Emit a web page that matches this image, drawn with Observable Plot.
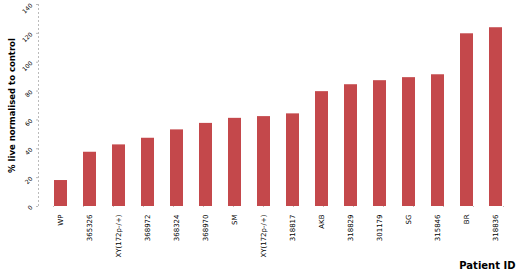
<!DOCTYPE html>
<html>
<head>
<meta charset="utf-8">
<script src="https://cdn.jsdelivr.net/npm/d3@7"></script>
<script src="https://cdn.jsdelivr.net/npm/@observablehq/plot@0.6"></script>
<style>
  html, body { margin: 0; padding: 0; background: #fff; }
  #chart svg { display: block; }
  #chart svg [aria-label="y-axis label"] text { font-size: 8.5px; font-weight: bold; }
</style>
</head>
<body>
<div id="chart"></div>
<script>
const patients = ["WP", "365326", "XY(172p-/+)", "368972", "368324", "368970", "SM", "XY(172p-/+)\u200b", "318817", "AKB", "318829", "301179", "SG", "315846", "BR", "318836"];
const values = [18.0, 37.6, 42.7, 47.3, 53.1, 57.6, 61.1, 62.3, 64.2, 79.6, 84.4, 87.2, 89.3, 91.3, 119.7, 123.9];
const yTicks = [0, 20, 40, 60, 80, 100, 120, 140];

const data = patients.map((p, i) => ({patient: p, value: values[i]}));

const chart = Plot.plot({
  width: 520,
  height: 276,
  marginLeft: 38,
  marginRight: 1,
  marginTop: 4,
  marginBottom: 70,
  style: {fontFamily: "DejaVu Sans, sans-serif", background: "#fff"},
  x: {domain: patients, padding: 0.55, align: 0.5},
  y: {domain: [0, 140]},
  marks: [
    Plot.barY(data, {x: "patient", y: "value", fill: "#c4484b"}),
    Plot.ruleY([0], {stroke: "#bbb", strokeDasharray: "1,29", strokeWidth: 1, dx: 15}),
    Plot.frame({anchor: "left", stroke: "#bbb", strokeDasharray: "1,3"}),
    Plot.axisY({ticks: yTicks, tickSize: 2, stroke: "#bbb", tickRotate: -45, fontSize: 6, tickPadding: 5,
      label: "% live normalised to control", labelAnchor: "center", labelArrow: "none", labelOffset: 30}),
    Plot.axisX({tickSize: 0, tickRotate: -90, fontSize: 7, tickPadding: 8, label: null}),
    Plot.text(["Patient ID"], {frameAnchor: "bottom-right", dy: 62, dx: -4, fontWeight: "bold", fontSize: 10, textAnchor: "end"})
  ]
});
document.getElementById("chart").append(chart);
</script>
</body>
</html>
